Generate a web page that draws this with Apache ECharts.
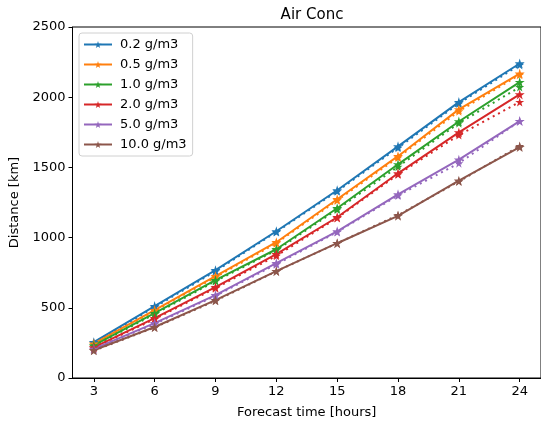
<!DOCTYPE html>
<html>
<head>
<meta charset="utf-8">
<script src="https://cdn.jsdelivr.net/npm/echarts@6/dist/echarts.min.js"></script>
<style>html,body{margin:0;padding:0;background:#fff;}#c{width:541px;height:424px;}</style>
</head>
<body>
<div id="c"></div>
<script>
const hours = [3, 6, 9, 12, 15, 18, 21, 24];
const yTicks = [0, 500, 1000, 1500, 2000, 2500];
const names = ['0.2 g/m3', '0.5 g/m3', '1.0 g/m3', '2.0 g/m3', '5.0 g/m3', '10.0 g/m3'];
const colors = ['#1f77b4', '#ff7f0e', '#2ca02c', '#d62728', '#9467bd', '#8c564b'];
// solid lines
const solid02 = [255, 512, 768, 1045, 1337, 1650, 1965, 2240];
const solid05 = [245, 484, 725, 967, 1273, 1580, 1913, 2168];
const solid10 = [232, 462, 697, 917, 1209, 1522, 1827, 2108];
const solid20 = [218, 427, 647, 882, 1145, 1458, 1749, 2020];
const solid50 = [208, 391, 590, 818, 1045, 1308, 1555, 1830];
const solid100 = [198, 363, 555, 761, 960, 1155, 1405, 1645];
// dotted lines
const dot02 = [250, 505, 760, 1040, 1330, 1640, 1955, 2230];
const dot05 = [240, 478, 718, 960, 1265, 1570, 1900, 2160];
const dot10 = [228, 455, 690, 910, 1200, 1505, 1815, 2072];
const dot20 = [215, 420, 640, 870, 1140, 1450, 1730, 1966];
const dot50 = [205, 385, 585, 810, 1040, 1300, 1530, 1830];
const dot100 = [195, 360, 550, 760, 960, 1160, 1400, 1652];

const solids = [solid02, solid05, solid10, solid20, solid50, solid100];
const dots = [dot02, dot05, dot10, dot20, dot50, dot100];
const star = 'path://M50,0 L61,35 L98,35 L68,57 L79,91 L50,70 L21,91 L32,57 L2,35 L39,35 Z';
const font = 'DejaVu Sans';

const series = [];
for (let i = 0; i < names.length; i++) {
  series.push({
    name: names[i], type: 'line', data: hours.map((h, j) => [h, solids[i][j]]),
    symbol: star, symbolSize: 10, showSymbol: true,
    lineStyle: {color: colors[i], width: 2}, itemStyle: {color: colors[i]},
    animation: false, z: 3
  });
  series.push({
    name: names[i] + ' dotted', type: 'line', data: hours.map((h, j) => [h, dots[i][j]]),
    symbol: star, symbolSize: 9, showSymbol: true,
    lineStyle: {color: colors[i], width: 2, type: [2, 4]}, itemStyle: {color: colors[i]},
    animation: false, z: 2
  });
}

const chart = echarts.init(document.getElementById('c'));
chart.setOption({
  animation: false,
  textStyle: {fontFamily: font},
  title: {text: 'Air Conc', left: 307, top: 3, textAlign: 'center',
    textStyle: {fontFamily: font, fontSize: 15, fontWeight: 'normal', color: '#000'}},
  grid: {left: 72.5, top: 27, width: 470, height: 351, show: true, borderColor: '#000', borderWidth: 1, backgroundColor: 'transparent'},
  legend: {
    data: names, orient: 'vertical', left: 79, top: 33,
    itemWidth: 28, itemHeight: 9, itemGap: 7,
    borderColor: '#d0d0d0', borderWidth: 1, borderRadius: 3, padding: [5, 6, 5, 4],
    backgroundColor: 'rgba(255,255,255,0.8)',
    textStyle: {fontFamily: font, fontSize: 13, color: '#000', padding: [0, 0, 0, 3]}
  },
  xAxis: {
    type: 'value', min: 1.95, max: 25.05,
    name: 'Forecast time [hours]', nameLocation: 'middle', nameGap: 28,
    nameTextStyle: {fontFamily: font, fontSize: 13, color: '#000'},
    axisLine: {lineStyle: {color: '#000'}},
    axisTick: {show: true, customValues: hours, length: 4, lineStyle: {color: '#000'}},
    axisLabel: {customValues: hours, color: '#000', fontSize: 13, fontFamily: font, margin: 7},
    splitLine: {show: false}
  },
  yAxis: {
    type: 'value', min: 0, max: 2500, interval: 500,
    name: 'Distance [km]', nameLocation: 'middle', nameGap: 48,
    nameTextStyle: {fontFamily: font, fontSize: 13, color: '#000'},
    axisLine: {show: true, lineStyle: {color: '#000'}},
    axisTick: {show: true, length: 4, lineStyle: {color: '#000'}},
    axisLabel: {customValues: yTicks, formatter: v => String(v), color: '#000', fontSize: 13, fontFamily: font, margin: 7},
    splitLine: {show: false}
  },
  series: series
});
</script>
</body>
</html>
